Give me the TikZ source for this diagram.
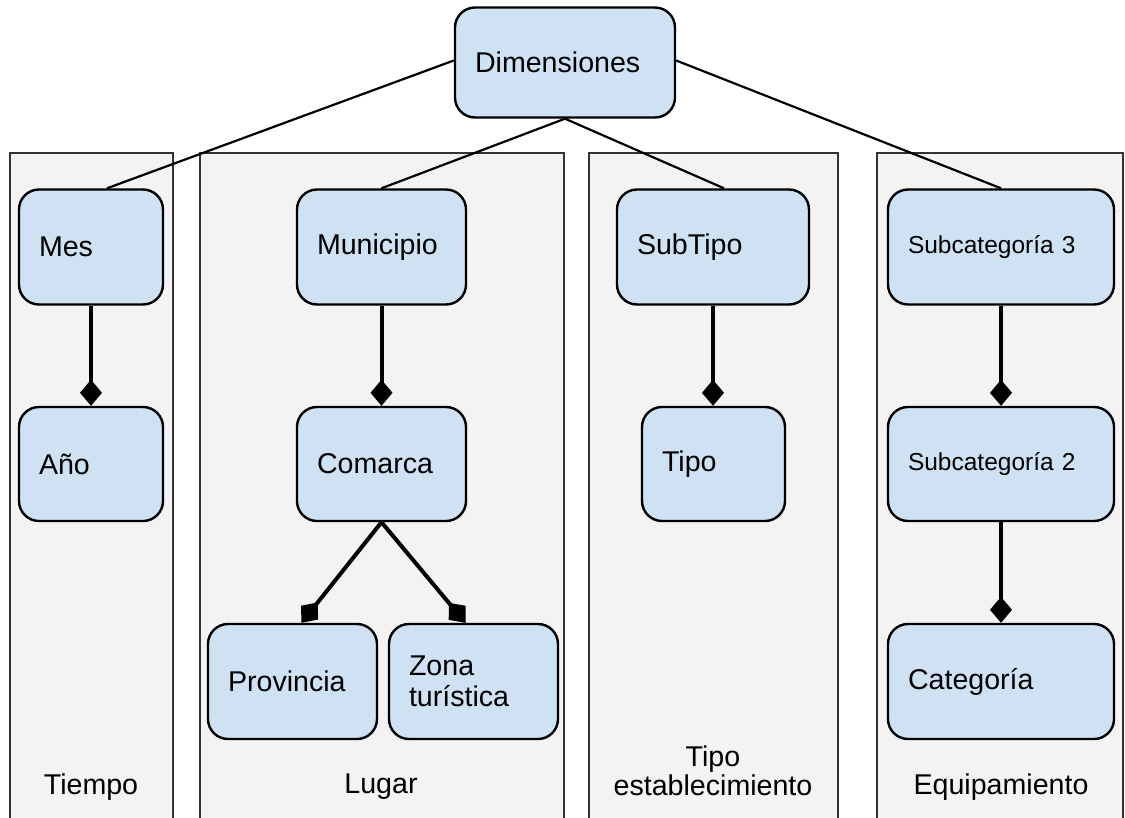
\documentclass[tikz,border=0pt]{standalone}
\usepackage{fontspec}
\setmainfont{Liberation Sans}
\usetikzlibrary{arrows.meta,calc}
\definecolor{boxblue}{HTML}{CFE2F3}
\definecolor{panelgray}{HTML}{F3F3F3}
\definecolor{panelline}{HTML}{333333}
\begin{document}
\begin{tikzpicture}[x=1pt,y=-1pt,
  panel/.style={draw=panelline,fill=panelgray,line width=2pt},
  box/.style={draw=black,fill=boxblue,rounded corners=20pt,line width=2.4pt,
    inner xsep=20pt,inner ysep=0pt,align=left,minimum height=115pt,
    font=\fontsize{28.6}{33}\selectfont},
  smallbox/.style={box,font=\fontsize{24.5}{28}\selectfont},
  paneltitle/.style={align=center,font=\fontsize{28.6}{32}\selectfont},
  link/.style={draw=black,line width=2.2pt},
  part/.style={draw=black,line width=4pt,-{Diamond[length=26pt,width=22pt]}}]
\useasboundingbox (0,0) rectangle (1125,817);

% dimension panels (open at the bottom)
\path[panel] (10,830) -- (10,153) -- (173,153) -- (173,830);
\path[panel] (200,830) -- (200,153) -- (564,153) -- (564,830);
\path[panel] (589,830) -- (589,153) -- (838,153) -- (838,830);
\path[panel] (877,830) -- (877,153) -- (1123,153) -- (1123,830);

\node[paneltitle] (tTiempo) at (91,787) {Tiempo};
\node[paneltitle] (tLugar) at (381,787) {Lugar};
\node[paneltitle] (tTipo) at (713,771) {Tipo\\[-3pt]establecimiento};
\node[paneltitle] (tEquip) at (1001,787) {Equipamiento};

% root
\node[box,text width=180pt,minimum height=110pt] (dim) at (565,62.5) {\raisebox{-2pt}{Dimensiones}};

% Tiempo
\node[box,text width=104pt] (mes) at (91,247) {Mes};
\node[box,text width=104pt,minimum height=114pt] (anio) at (91,464) {Año};

% Lugar
\node[box,text width=129pt] (mun) at (381.5,247) {Municipio};
\node[box,text width=129pt,minimum height=114pt] (com) at (381.5,464) {Comarca};
\node[box,text width=129pt] (prov) at (292.5,681.5) {Provincia};
\node[box,text width=129pt,font=\fontsize{28.6}{31}\selectfont] (zona) at (473.5,681.5) {Zona\\turística};

% Tipo establecimiento
\node[box,text width=152pt] (sub) at (713,247) {SubTipo};
\node[box,text width=103pt,minimum height=114pt] (tipo) at (713.5,464) {Tipo};

% Equipamiento
\node[smallbox,text width=186pt] (sc3) at (1001,247) {Subcategoría 3};
\node[smallbox,text width=186pt,minimum height=114pt] (sc2) at (1001,464) {Subcategoría 2};
\node[box,text width=186pt] (cat) at (1001,681.5) {Categoría};

% links from the root
\draw[link] ([yshift=2pt]dim.west) -- ([xshift=16pt]mes.north);
\draw[link] (dim.south) -- (mun.north);
\draw[link] (dim.south) -- ([xshift=11pt]sub.north);
\draw[link] ([yshift=2pt]dim.east) -- (sc3.north);

% hierarchy links
\draw[part] (mes.south) -- (anio.north);
\draw[part] (mun.south) -- (com.north);
\draw[part] (com.south) -- ([xshift=9pt]prov.north);
\draw[part] (com.south) -- ([xshift=-8pt]zona.north);
\draw[part] (sub.south) -- ([xshift=-0.5pt]tipo.north);
\draw[part] (sc3.south) -- (sc2.north);
\draw[part] (sc2.south) -- (cat.north);
\end{tikzpicture}
\end{document}
